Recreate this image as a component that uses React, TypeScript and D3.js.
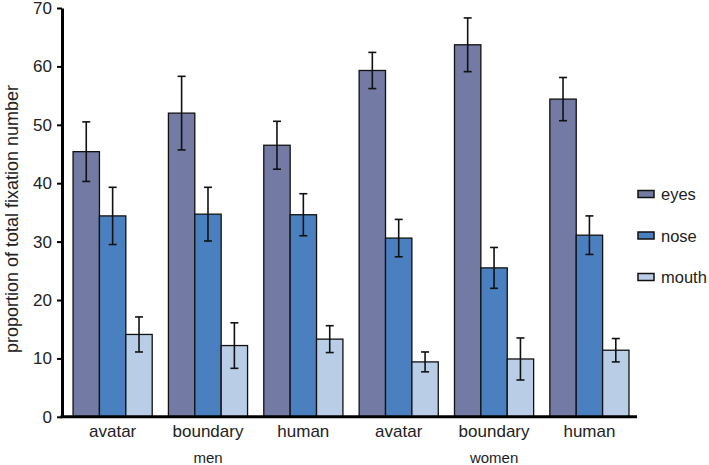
import React, { useEffect, useRef } from 'react';
import * as d3 from 'd3';

const groups = ['men-avatar', 'men-boundary', 'men-human', 'women-avatar', 'women-boundary', 'women-human'];
const groupLabels = ['avatar', 'boundary', 'human', 'avatar', 'boundary', 'human'];
const genders = ['men', 'women'];
const series = ['eyes', 'nose', 'mouth'];
const colors = ['#737aa3', '#4a80c0', '#bacde7'];

const eyes = [45.4, 52.0, 46.5, 59.3, 63.7, 54.4];
const eyesErr = [5.1, 6.3, 4.1, 3.1, 4.6, 3.7];
const nose = [34.4, 34.7, 34.6, 30.6, 25.5, 31.1];
const noseErr = [4.9, 4.6, 3.6, 3.2, 3.5, 3.3];
const mouth = [14.1, 12.2, 13.3, 9.4, 9.9, 11.4];
const mouthErr = [3.0, 3.9, 2.3, 1.7, 3.6, 2.0];

const yTicks = [0, 10, 20, 30, 40, 50, 60, 70];

const App: React.FC = () => {
  const ref = useRef<SVGSVGElement | null>(null);

  useEffect(() => {
    const svg = d3.select(ref.current);
    svg.selectAll('*').remove();

    const font = 'Arial, "Liberation Sans", sans-serif';
    const left = 62;
    const right = 637;

    const x = d3.scaleBand<string>().domain(groups).range([left, right])
      .paddingInner(0.17).paddingOuter(0.1).align(0.58);
    const xs = d3.scaleBand<string>().domain(series).range([0, x.bandwidth()]);
    const y = d3.scaleLinear().domain([0, 70]).range([416.8, 8]);

    const values = [eyes, nose, mouth];
    const errs = [eyesErr, noseErr, mouthErr];

    const rows = series.flatMap((s, si) =>
      groups.map((g, gi) => ({ g, s, si, v: values[si][gi], e: errs[si][gi] })));

    // bars
    svg.append('g')
      .selectAll('rect')
      .data(rows)
      .enter()
      .append('rect')
      .attr('x', d => x(d.g)! + xs(d.s)!)
      .attr('y', d => y(d.v))
      .attr('width', xs.bandwidth())
      .attr('height', d => y(0) - y(d.v))
      .attr('fill', d => colors[d.si])
      .attr('stroke', '#111')
      .attr('stroke-width', 1.3);

    // error bars
    const eg = svg.append('g').attr('stroke', '#111').attr('stroke-width', 1.6);
    rows.forEach(d => {
      const cx = x(d.g)! + xs(d.s)! + xs.bandwidth() / 2;
      eg.append('line').attr('x1', cx).attr('x2', cx).attr('y1', y(d.v + d.e)).attr('y2', y(d.v - d.e));
      eg.append('line').attr('x1', cx - 4).attr('x2', cx + 4).attr('y1', y(d.v + d.e)).attr('y2', y(d.v + d.e));
      eg.append('line').attr('x1', cx - 4).attr('x2', cx + 4).attr('y1', y(d.v - d.e)).attr('y2', y(d.v - d.e));
    });

    // y axis
    const yAxis = svg.append('g')
      .attr('transform', `translate(${left},0)`)
      .call(d3.axisLeft(y).tickValues(yTicks).tickSize(5).tickPadding(5).tickSizeOuter(0));
    yAxis.select('.domain').attr('stroke', '#000').attr('stroke-width', 3);
    yAxis.selectAll('.tick line').attr('stroke', '#000').attr('stroke-width', 2);
    yAxis.selectAll('.tick text')
      .attr('font-family', font)
      .attr('font-size', 17)
      .attr('fill', '#222');

    // x axis
    svg.append('line')
      .attr('x1', left - 1.5).attr('x2', right)
      .attr('y1', y(0)).attr('y2', y(0))
      .attr('stroke', '#000').attr('stroke-width', 3);

    svg.append('g')
      .selectAll('text')
      .data(groups)
      .enter()
      .append('text')
      .attr('x', d => x(d)! + x.bandwidth() / 2)
      .attr('y', 437)
      .attr('text-anchor', 'middle')
      .attr('font-family', font)
      .attr('font-size', 17)
      .attr('fill', '#222')
      .text((d, i) => groupLabels[i]);

    svg.append('g')
      .selectAll('text')
      .data(genders)
      .enter()
      .append('text')
      .attr('x', (d, i) => x(groups[i * 3 + 1])! + x.bandwidth() / 2)
      .attr('y', 463)
      .attr('text-anchor', 'middle')
      .attr('font-family', font)
      .attr('font-size', 15)
      .attr('fill', '#222')
      .text(d => d);

    // y label
    svg.append('text')
      .attr('transform', 'translate(18,219) rotate(-90)')
      .attr('text-anchor', 'middle')
      .attr('font-family', font)
      .attr('font-size', 18)
      .attr('fill', '#222')
      .text('proportion of total fixation number');

    // legend
    const ly = d3.scalePoint<string>().domain(series).range([194, 277]);
    const lg = svg.append('g')
      .selectAll('g')
      .data(series)
      .enter()
      .append('g')
      .attr('transform', d => `translate(638,${ly(d)})`);
    lg.append('rect')
      .attr('x', 0).attr('y', -3.5)
      .attr('width', 16).attr('height', 7)
      .attr('fill', (d, i) => colors[i])
      .attr('stroke', '#111')
      .attr('stroke-width', 1.5);
    lg.append('text')
      .attr('x', 23)
      .attr('y', 6)
      .attr('font-family', font)
      .attr('font-size', 16.5)
      .attr('fill', '#222')
      .text(d => d);
  }, []);

  return (
    <div style={{ position: 'absolute', left: 0, top: 0, background: '#fff' }}>
      <svg ref={ref} width={709} height={465} />
    </div>
  );
};

export default App;
